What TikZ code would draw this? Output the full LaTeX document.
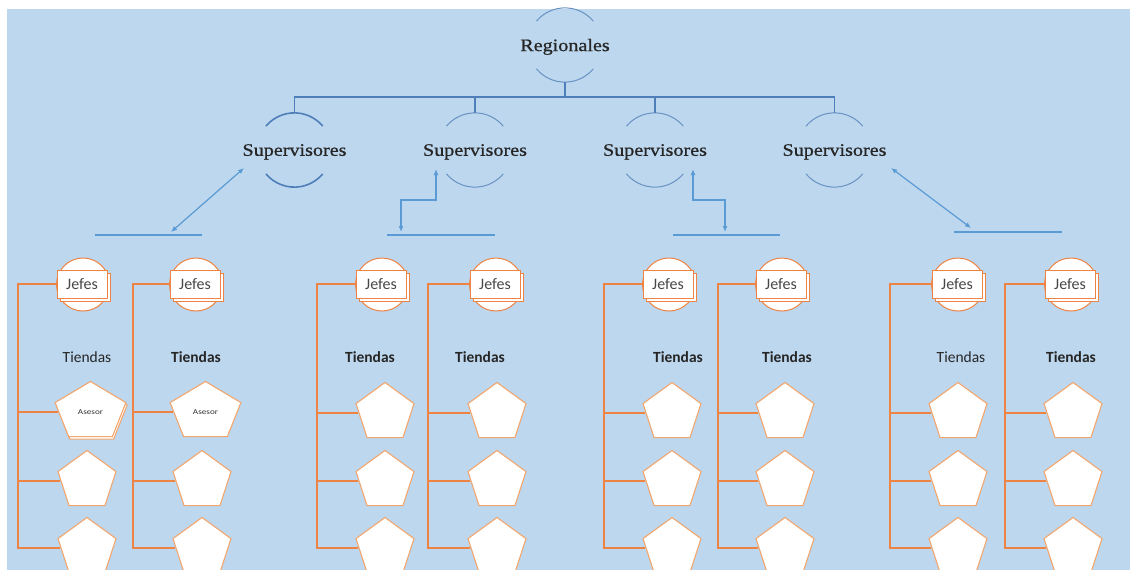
\documentclass[tikz,border=0pt]{standalone}
\usepackage{fontspec}
\setmainfont{Liberation Serif}
\newfontfamily\serfont[FakeStretch=1.15,FakeBold=0.8]{Liberation Serif}
\newfontfamily\calfont{Carlito}
\usetikzlibrary{arrows.meta,shapes.geometric}
\definecolor{bgblue}{HTML}{BDD7EE}
\definecolor{treeblue}{HTML}{4F7FB8}
\definecolor{arrblue}{HTML}{5B9BD5}
\definecolor{orline}{HTML}{EE8444}
\definecolor{orpent}{HTML}{F2A66E}
\tikzset{
  head/.style={circle, minimum size=74pt, inner sep=0pt, text depth=0pt, font=\serfont\fontsize{17.5}{20}\selectfont, text=black!85},
  arcline/.style={draw=treeblue!85, line width=1pt},
  tree/.style={draw=treeblue, line width=1.1pt},
  arr/.style={draw=arrblue, line width=1.2pt, {Latex[length=6pt,width=5pt]}-{Latex[length=6pt,width=5pt]}},
  hline/.style={draw=arrblue, line width=1.2pt},
  jcirc/.style={circle, draw=orline, fill=white, minimum size=53pt, inner sep=0pt, line width=1pt},
  jrect/.style={rectangle, draw=orline, fill=white, minimum width=50pt, minimum height=28pt, inner sep=0pt, line width=1pt, font=\calfont\fontsize{16}{18}\selectfont, text=black!72},
  pent/.style={regular polygon, regular polygon sides=5, minimum size=61pt, inner sep=0pt, draw=orpent, fill=white, line width=1.1pt},
  orl/.style={draw=orline, line width=1.2pt}
}
\begin{document}
\begin{tikzpicture}[x=1pt,y=-1pt]
\useasboundingbox (0,0) rectangle (1130,570);
\fill[bgblue] (7,9) rectangle (1130,570);

% Regionales
\node[head] (reg) at (565,45) {\makebox[0pt]{Regionales}};
\draw[arcline] (reg.140) arc[start angle=140, end angle=40, radius=37pt];
\draw[arcline] (reg.220) arc[start angle=220, end angle=320, radius=37pt];

% Supervisores
\foreach \k/\sx in {1/294.5, 2/475, 3/655, 4/834.5}{
  \node[head] (s\k) at (\sx,150) {\makebox[0pt]{Supervisores}};
  \ifnum\k=1
    \draw[arcline, line width=1.6pt, draw=treeblue] (s\k.140) arc[start angle=140, end angle=40, radius=37pt];
    \draw[arcline, line width=1.6pt, draw=treeblue] (s\k.220) arc[start angle=220, end angle=320, radius=37pt];
  \else
    \draw[arcline] (s\k.140) arc[start angle=140, end angle=40, radius=37pt];
    \draw[arcline] (s\k.220) arc[start angle=220, end angle=320, radius=37pt];
  \fi
}

% tree connectors
\coordinate (bar) at (565,97);
\draw[tree] (reg.south) -- (bar);
\draw[tree] (s1.north) -- (s1.north |- bar) -- (s4.north |- bar) -- (s4.north);
\draw[tree] (s2.north) -- (s2.north |- bar);
\draw[tree] (s3.north) -- (s3.north |- bar);

% arrows and short lines
\coordinate (a1a) at (244,168); \coordinate (a1b) at (171,232);
\draw[arr] (a1a) -- (a1b);
\coordinate (l1a) at (95,235); \coordinate (l1b) at (202,235);
\draw[hline] (l1a) -- (l1b);

\coordinate (a2a) at (436,169); \coordinate (a2b) at (401,232);
\draw[arr] (a2a) -- ++(0,31) -| (a2b);
\coordinate (l2a) at (387,235); \coordinate (l2b) at (495,235);
\draw[hline] (l2a) -- (l2b);

\coordinate (a3a) at (693,169); \coordinate (a3b) at (725,232);
\draw[arr] (a3a) -- ++(0,31) -| (a3b);
\coordinate (l3a) at (673,235); \coordinate (l3b) at (780,235);
\draw[hline] (l3a) -- (l3b);

\coordinate (a4a) at (891,168); \coordinate (a4b) at (971,228);
\draw[arr] (a4a) -- (a4b);
\coordinate (l4a) at (954,232); \coordinate (l4b) at (1062,232);
\draw[hline] (l4a) -- (l4b);

% columns
\foreach \i/\jx/\px/\vx/\tx/\tf in {1/83/87/18/87/\mdseries, 2/196/202/133/196/\bfseries, 3/382/385/317/370/\bfseries, 4/496/497/428/480/\bfseries, 5/669/672/604/678/\bfseries, 6/782/785/718/787/\bfseries, 7/958/958/890/961/\mdseries, 8/1071/1073/1005/1071/\bfseries}{
  \node[jcirc] (jc\i) at (\jx,284.5) {};
  \node[jrect] (jb\i) at (\jx+2,287) {};
  \node[jrect] (j\i) at (\jx-1,284) {Jefes};
  \node[font=\calfont\fontsize{15.5}{18}\selectfont\tf, text=black!85] (t\i) at (\tx,357) {Tiendas};
  \ifnum\i<3
    \begin{scope}[shift={(\px+3.5,412)}, xscale=1.22]
      \ifnum\i=1 \node[pent, transform shape] (pb\i) at (1,2.5) {}; \fi
      \node[pent, transform shape, font=\calfont\fontsize{7.5}{9}\selectfont, text=black!80] (p\i1) at (0,0) {Asesor};
    \end{scope}
  \else
    \node[pent] (p\i1) at (\px,413) {};
  \fi
  \node[pent] (p\i2) at (\px,481) {};
  \node[pent] (p\i3) at (\px,548) {};
  \coordinate (v\i) at (\vx,0);
  \draw[orl] (j\i.west) -| (v\i |- p\i3.west) -- (p\i3.west);
  \draw[orl] (v\i |- p\i1.west) -- (p\i1.west);
  \draw[orl] (v\i |- p\i2.west) -- (p\i2.west);
}
\end{tikzpicture}
\end{document}
